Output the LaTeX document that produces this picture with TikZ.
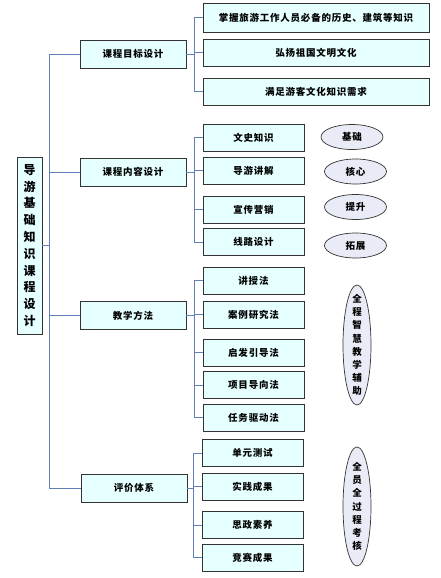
\documentclass[tikz,border=0pt]{standalone}
\usepackage{fontspec}
\newfontfamily\cjk[LetterSpace=8]{Noto Sans CJK SC}
\usetikzlibrary{shapes.geometric,shadows}
\definecolor{boxfill}{RGB}{230,255,255}
\definecolor{ovalfill}{RGB}{233,235,246}
\definecolor{linkblue}{RGB}{96,128,182}
\tikzset{
  box/.style={draw=black!80, line width=0.8pt, fill=boxfill, inner sep=0pt,
    minimum height=27pt, font=\cjk\fontsize{9.5}{11}\selectfont\bfseries,
    drop shadow={shadow xshift=0.8pt, shadow yshift=-0.8pt, fill=black!55, opacity=0.7}},
  topbox/.style={box, minimum width=106pt, minimum height=28pt},
  widebox/.style={box, minimum width=226pt},
  leafbox/.style={box, minimum width=101pt},
  rootbox/.style={box, minimum width=25pt, minimum height=177pt, align=center,
    font=\cjk\fontsize{12}{16.8}\selectfont\bfseries},
  oval/.style={ellipse, draw=black!80, line width=0.7pt, fill=ovalfill, inner sep=0pt,
    font=\cjk\fontsize{9.5}{11}\selectfont\bfseries},
  vtext/.style={align=center, inner sep=0pt, font=\cjk\fontsize{9.5}{13.2}\selectfont\bfseries},
  link/.style={draw=linkblue, line width=0.9pt}
}
\begin{document}
\begin{tikzpicture}[x=1pt, y=-1pt]
  \useasboundingbox (0,0) rectangle (440,578);
  \def\bx{49}
  % root and first level
  \node[rootbox] (root) at (29.5,245.5) {导\\游\\基\\础\\知\\识\\课\\程\\设\\计};
  \node[topbox] (goal) at (133,54) {课程目标设计};
  \node[topbox] (content) at (133,172) {课程内容设计};
  \node[topbox] (method) at (133,315.5) {教学方法};
  \node[topbox] (eval) at (134,488) {评价体系};
  % course goals
  \node[widebox, minimum height=29pt] (goal1) at (316,17.5) {掌握旅游工作人员必备的历史、建筑等知识};
  \node[widebox] (goal2) at (316,52.5) {弘扬祖国文明文化};
  \node[widebox] (goal3) at (316,91.5) {满足游客文化知识需求};
  % course content
  \node[leafbox] (cont1) at (253.5,137.5) {文史知识};
  \node[leafbox] (cont2) at (253.5,170.5) {导游讲解};
  \node[leafbox] (cont3) at (253.5,209.5) {宣传营销};
  \node[leafbox] (cont4) at (253.5,242) {线路设计};
  \node[oval, minimum width=62pt, minimum height=25pt] (base) at (352,137) {基础};
  \node[oval, minimum width=62pt, minimum height=25pt] (core) at (355.5,171.5) {核心};
  \node[oval, minimum width=62pt, minimum height=25pt] (lift) at (355.5,207) {提升};
  \node[oval, minimum width=62pt, minimum height=25pt] (ext) at (355.5,245.5) {拓展};
  % teaching methods
  \node[leafbox] (meth1) at (253.5,280.5) {讲授法};
  \node[leafbox] (meth2) at (253.5,314.5) {案例研究法};
  \node[leafbox] (meth3) at (253.5,352.5) {启发引导法};
  \node[leafbox] (meth4) at (253.5,385) {项目导向法};
  \node[leafbox] (meth5) at (253.5,417.5) {任务驱动法};
  \node[oval, minimum width=28pt, minimum height=120pt] (aid) at (357,345) {};
  \node[vtext] (aidtext) at (aid) {全\\程\\智\\慧\\教\\学\\辅\\助};
  % evaluation
  \node[leafbox] (eval1) at (252.5,453) {单元测试};
  \node[leafbox] (eval2) at (252.5,486.5) {实践成果};
  \node[leafbox] (eval3) at (252.5,525) {思政素养};
  \node[leafbox] (eval4) at (252.5,557.5) {竞赛成果};
  \node[oval, minimum width=28pt, minimum height=119pt] (check) at (357,506.5) {};
  \node[vtext] (checktext) at (check) {全\\员\\全\\过\\程\\考\\核};
  % connectors
  \foreach \t in {goal,content,method,eval}
    \draw[link] (root.east) -- (\bx,245.5) |- (\t.west);
  \foreach \c in {goal1,goal2,goal3}
    \draw[link] (goal.east) -- ++(8,0) |- (\c.west);
  \foreach \c in {cont1,cont2,cont3,cont4}
    \draw[link] (content.east) -- ++(8,0) |- (\c.west);
  \foreach \c in {meth1,meth2,meth3,meth4,meth5}
    \draw[link] (method.east) -- ++(8,0) |- (\c.west);
  \foreach \c in {eval1,eval2,eval3,eval4}
    \draw[link] (eval.east) -- ++(6,0) |- (\c.west);
\end{tikzpicture}
\end{document}
